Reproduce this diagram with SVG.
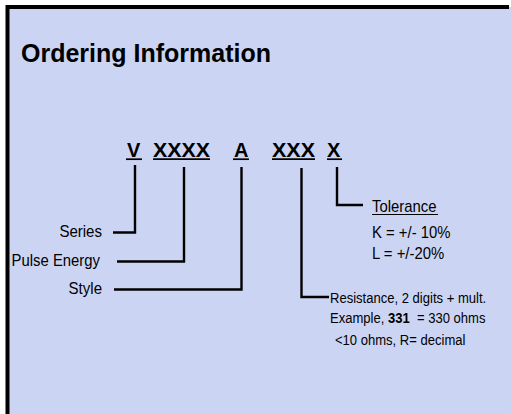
<svg xmlns="http://www.w3.org/2000/svg" width="511" height="414" viewBox="0 0 511 414">
<style>
text{font-family:"Liberation Sans",Arial,sans-serif;fill:#000}
.title{font-size:25px;font-weight:bold}
.code{font-size:20px;font-weight:bold}
.lbl{font-size:16px}
.sm{font-size:14.5px}
.ul{stroke:#000;stroke-width:1.7}
#connectors path{fill:none;stroke:#000;stroke-width:2.4}
</style>
<rect x="7" y="7" width="504" height="407" fill="#CBD5F3"/>
<path d="M7.5 414 V7 H509" fill="none" stroke="#000" stroke-width="4"/>
<g id="title"><text class="title" x="21" y="62">Ordering Information</text></g>
<g id="code-v"><text class="code" x="127" y="157">V</text><line class="ul" x1="126" y1="159.2" x2="142" y2="159.2"/></g>
<g id="code-xxxx"><text class="code" x="153" y="157" textLength="57" lengthAdjust="spacingAndGlyphs">XXXX</text><line class="ul" x1="153" y1="159.2" x2="210" y2="159.2"/></g>
<g id="code-a"><text class="code" x="234" y="157">A</text><line class="ul" x1="233" y1="159.2" x2="249" y2="159.2"/></g>
<g id="code-xxx"><text class="code" x="272" y="157" textLength="43" lengthAdjust="spacingAndGlyphs">XXX</text><line class="ul" x1="272" y1="159.2" x2="315" y2="159.2"/></g>
<g id="code-x"><text class="code" x="327" y="157">X</text><line class="ul" x1="327" y1="159.2" x2="342" y2="159.2"/></g>
<g id="series"><text class="lbl" text-anchor="end" transform="translate(102,237) scale(0.94,1)">Series</text></g>
<g id="pulse-energy"><text class="lbl" text-anchor="end" transform="translate(100,266) scale(0.93,1)">Pulse Energy</text></g>
<g id="style"><text class="lbl" text-anchor="end" transform="translate(102,294) scale(0.94,1)">Style</text></g>
<g id="tolerance">
<text class="lbl" transform="translate(372,212) scale(0.93,1)">Tolerance</text>
<line class="ul" x1="372" y1="214.5" x2="438" y2="214.5" style="stroke-width:1.2"/>
<text class="lbl" transform="translate(372,238) scale(0.93,1)">K = +/- 10%</text>
<text class="lbl" transform="translate(372,259) scale(0.93,1)">L = +/-20%</text>
</g>
<g id="resistance">
<text class="sm" transform="translate(330,303) scale(0.9,1)">Resistance, 2 digits + mult.</text>
<text class="sm" transform="translate(330,323) scale(0.9,1)" xml:space="preserve">Example, <tspan font-weight="bold">331</tspan>  = 330 ohms</text>
<text class="sm" transform="translate(335,345) scale(0.9,1)">&lt;10 ohms, R= decimal</text>
</g>
<g id="connectors">
<path d="M135 165 V232.5 H113"/>
<path d="M184 167 V261.5 H117"/>
<path d="M241.5 167 V289.5 H114"/>
<path d="M301.5 168 V297 H329"/>
<path d="M337 167 V205 H363"/>
</g>
</svg>
